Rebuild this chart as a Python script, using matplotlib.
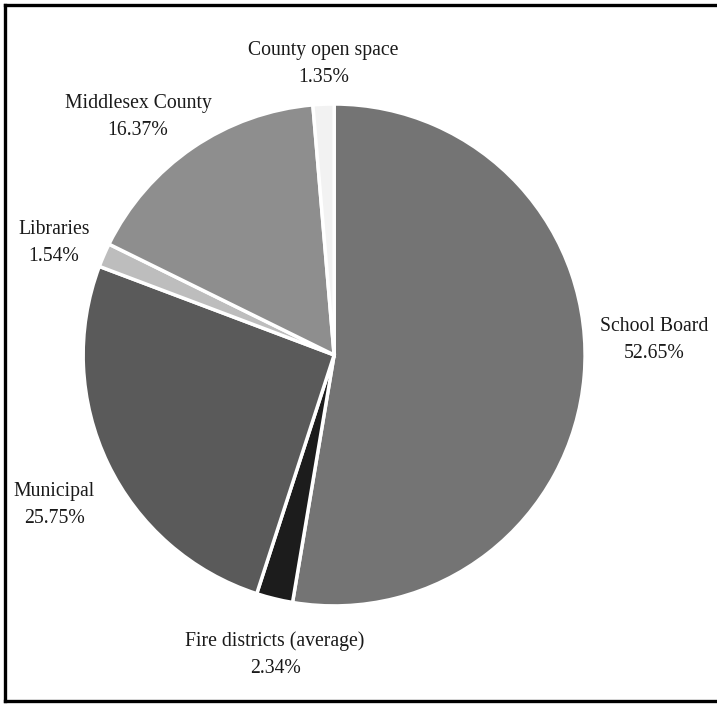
import numpy as np
import matplotlib
matplotlib.use("Agg")
import matplotlib.pyplot as plt
from matplotlib.lines import Line2D

# data
labels = ["School Board", "Fire districts (average)", "Municipal",
          "Libraries", "Middlesex County", "County open space"]
shares = [52.65, 2.34, 25.75, 1.54, 16.37, 1.35]
colors = ["#747474", "#1c1c1c", "#5a5a5a", "#bdbdbd", "#8e8e8e", "#f2f2f2"]

# where each label sits (data units, pie radius = 1)
label_pos = [(1.275, 0.060), (-0.235, -1.195), (-1.116, -0.598),
             (-1.116, 0.446), (-0.781, 0.948), (-0.042, 1.16)]

plt.rcParams['font.family'] = ['Liberation Serif', 'DejaVu Serif']

fig = plt.figure(figsize=(7.17, 7.05), dpi=100)
ax = fig.add_axes([0.466 - 0.35, 0.4965 - 0.356, 0.70, 0.712])

wedges, texts = ax.pie(shares, colors=colors, startangle=90, counterclock=False,
                       labels=[f"{l}\n{s:.2f}%" for l, s in zip(labels, shares)],
                       wedgeprops=dict(edgecolor="white", linewidth=2.5),
                       textprops=dict(fontsize=14.2, color="#1a1a1a",
                                      ha="center", va="center", linespacing=1.6))
for t, (x, y) in zip(texts, label_pos):
    t.set_position((x, y))
    t.set_ha("center")
    t.set_va("center")

ax.set_xlim(-1, 1)
ax.set_ylim(-1, 1)
ax.set_aspect("equal")
ax.axis("off")

# frame around the figure
W, H = 717, 705
def fx(p): return p / W
def fy(p): return 1 - p / H
lw = 2.4
fig.add_artist(Line2D([fx(4.5), fx(4.5)], [fy(4.5), fy(701)], color="black", lw=lw))
fig.add_artist(Line2D([fx(4.5), 1.0], [fy(4.5), fy(4.5)], color="black", lw=lw))
fig.add_artist(Line2D([fx(4.5), 1.0], [fy(701), fy(701)], color="black", lw=lw))

fig.savefig("out.png", dpi=100)
